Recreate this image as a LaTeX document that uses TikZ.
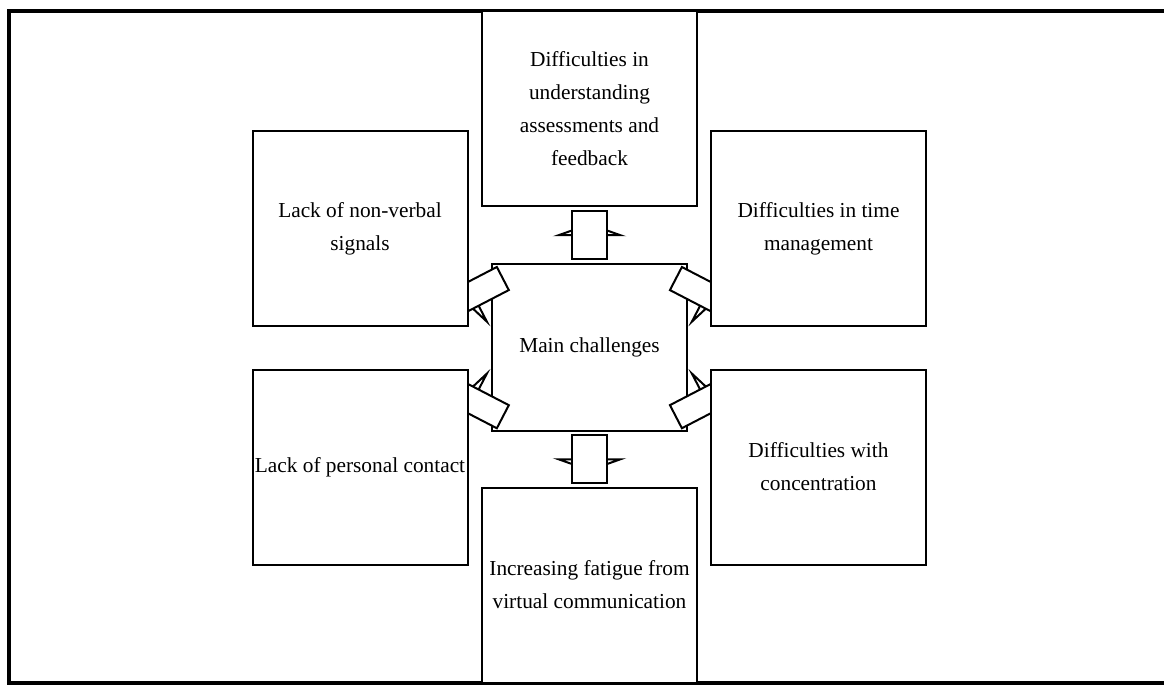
\documentclass[tikz,border=0pt]{standalone}
\usepackage{fontspec}
\setmainfont{Liberation Serif}
\usetikzlibrary{backgrounds}
\pgfdeclarelayer{hublayer}
\pgfdeclarelayer{stemlayer}
\pgfsetlayers{background,hublayer,stemlayer,main}

% block connector: head under the hub, stem over it
% #1 at, #2 angle, #3 half width, #4 stem shift, #5 head shift
\newcommand{\blockarrow}[5]{%
  \begin{pgfonlayer}{background}
    \draw[arr, shift={(#1)}, rotate=#2, xshift=#5*0.75pt]
      (0,-31) -- (11,0) -- (0,31) -- cycle;
  \end{pgfonlayer}
  \begin{pgfonlayer}{stemlayer}
    \draw[arr, shift={(#1)}, rotate=#2, xshift=#4*0.75pt]
      (-24,-#3) rectangle (24,#3);
  \end{pgfonlayer}}

\begin{document}
\begin{tikzpicture}[
    x=0.75pt, y=-0.75pt,
    box/.style={rectangle, draw=black, line width=1.5pt, fill=white,
                minimum width=161.25pt, minimum height=146.25pt,
                inner xsep=0pt, inner ysep=2pt, align=center,
                font=\fontsize{16}{24.75}\selectfont},
    hub/.style={box, minimum width=146.25pt, minimum height=125.25pt},
    arr/.style={draw=black, line width=1.5pt, fill=white},
    frame/.style={draw=black, line width=2.5pt}
]
\useasboundingbox (0,0) rectangle (1164,688);

\begin{pgfonlayer}{hublayer}
  \node[hub] (main) at (589.5,347.5) {Main challenges};
\end{pgfonlayer}
\node[box] (assess)    at (589.5,109)   {Difficulties in\\understanding\\assessments and\\feedback};
\node[box] (nonverbal) at (360,228.5)   {Lack of non-verbal\\signals};
\node[box] (timemgmt)  at (818.5,228.5) {Difficulties in time\\management};
\node[box] (contact)   at (360,467)     {Lack of personal contact};
\node[box] (concentr)  at (818.5,467)   {Difficulties with\\concentration};
\node[box] (fatigue)   at (589.5,585)   {Increasing fatigue from\\virtual communication};

\begin{pgfonlayer}{background}
  \draw[frame] (1200,11) -- (9,11) -- (9,683) -- (1200,683);
\end{pgfonlayer}
\path (main) -- (assess)    coordinate[midway] (assessm);
\path (main) -- (nonverbal) coordinate[midway] (nonverbalm);
\path (main) -- (timemgmt)  coordinate[midway] (timemgmtm);
\path (main) -- (contact)   coordinate[midway] (contactm);
\path (main) -- (concentr)  coordinate[midway] (concentrm);
\path (main) -- (fatigue)   coordinate[midway] (fatiguem);
\blockarrow{assessm}{90}{17.5}{0}{0}
\blockarrow{fatiguem}{-90}{17.5}{0}{0}
\blockarrow{nonverbalm}{207.4}{13}{-2}{8}
\blockarrow{timemgmtm}{-27.4}{13}{-2}{8}
\blockarrow{contactm}{152.6}{13}{-2}{8}
\blockarrow{concentrm}{27.4}{13}{-2}{8}
\end{tikzpicture}
\end{document}
